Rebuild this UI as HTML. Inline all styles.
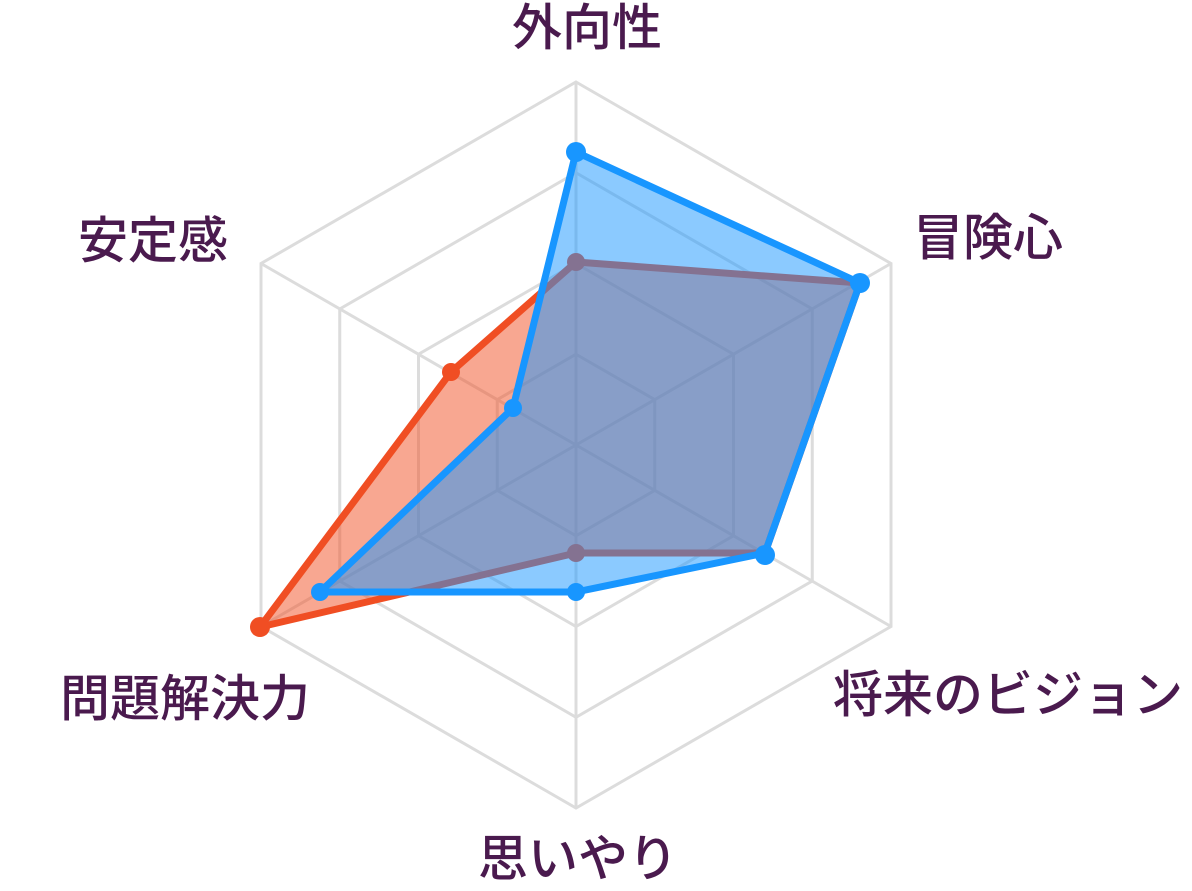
<!DOCTYPE html>
<html><head><meta charset="utf-8"><style>
html,body{margin:0;padding:0;background:#fff;}
svg{display:block;}
text{font-family:"Liberation Sans","Noto Sans CJK JP",sans-serif;font-size:50px;font-weight:500;fill:#4a1a4e;}
</style></head><body>
<svg width="1192" height="891" viewBox="0 0 1192 891" xmlns="http://www.w3.org/2000/svg">
<g fill="none" stroke="#dcdcdc" stroke-width="3">
<polygon points="576,82 891,263.5 891,626.5 576,808 261,626.5 261,263.5"/>
<polygon points="576,172.75 812.25,309 812.25,581 576,717.25 339.75,581 339.75,309"/>
<polygon points="576,263.5 733.5,354.25 733.5,535.75 576,626.5 418.5,535.75 418.5,354.25"/>
<polygon points="576,354.25 654.75,399.6 654.75,490.4 576,535.75 497.25,490.4 497.25,399.6"/>
<line x1="576" y1="445" x2="576" y2="82"/><line x1="576" y1="445" x2="891" y2="263.5"/>
<line x1="576" y1="445" x2="891" y2="626.5"/><line x1="576" y1="445" x2="576" y2="808"/>
<line x1="576" y1="445" x2="261" y2="626.5"/><line x1="576" y1="445" x2="261" y2="263.5"/>
</g>
<polygon points="576,262 860,283 765,553 576,553 260,627 451,372" fill="rgba(242,80,36,0.5)" stroke="#f04e23" stroke-width="7" stroke-linejoin="round"/>
<g fill="#f04e23"><circle cx="576" cy="262" r="9"/><circle cx="576" cy="553" r="9"/><circle cx="260" cy="627" r="10"/><circle cx="451" cy="372" r="9"/></g>
<polygon points="576,152 860,283 765,553 576,592 320,592 513,408" fill="rgba(24,150,255,0.5)" stroke="#1896ff" stroke-width="7" stroke-linejoin="round"/>
<g fill="#1896ff"><circle cx="576" cy="152" r="10"/><circle cx="860" cy="283" r="10"/><circle cx="765" cy="555" r="10"/><circle cx="576" cy="592" r="9"/><circle cx="320" cy="592" r="9"/><circle cx="513" cy="408" r="9"/></g>
<text x="587" y="45" text-anchor="middle">外向性</text>
<text x="913" y="255">冒険心</text>
<text x="833" y="712">将来のビジョン</text>
<text x="578" y="876" text-anchor="middle">思いやり</text>
<text x="60" y="716">問題解決力</text>
<text x="78" y="258">安定感</text>
</svg>
</body></html>
